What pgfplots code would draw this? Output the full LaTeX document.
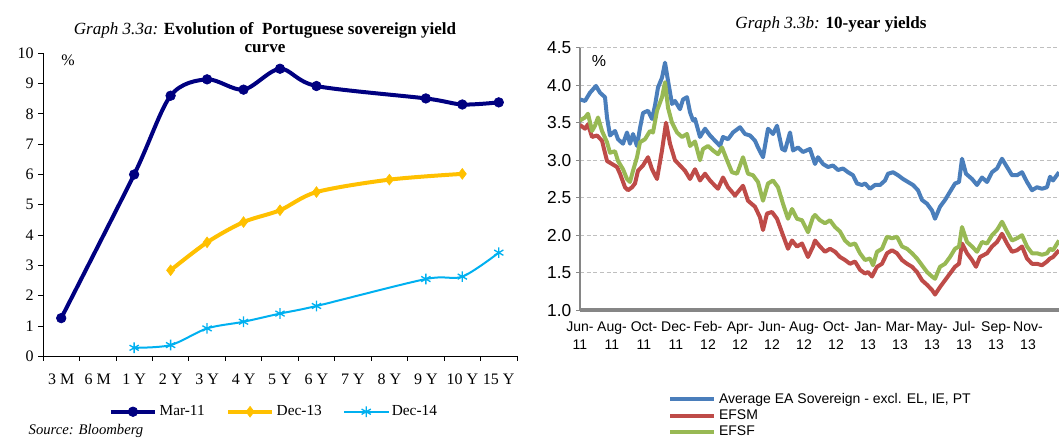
\documentclass[border=0pt]{standalone}
\usepackage{pgfplots}
\pgfplotsset{compat=1.18}
\usepackage{fontspec}
\setmainfont{Liberation Serif}
\newfontfamily\arial{Liberation Sans}
\definecolor{navyc}{HTML}{000080}
\definecolor{goldc}{HTML}{FFC000}
\definecolor{skyc}{HTML}{00B0F0}
\definecolor{blueS}{HTML}{4A7EBB}
\definecolor{redS}{HTML}{BE4B48}
\definecolor{greenS}{HTML}{98B954}
\definecolor{axgray}{HTML}{868686}
\definecolor{gridgray}{HTML}{BFBFBF}

\pgfplotstableread{
x y
580 3.81
585 3.79
590 3.90
596 3.99
600 3.90
605 3.84
607 3.57
610 3.33
615 3.39
618 3.28
623 3.22
627 3.37
630 3.22
633 3.35
637 3.19
640 3.43
643 3.63
648 3.66
652 3.55
655 3.73
658 3.97
662 4.10
665 4.30
668 4.06
672 3.75
675 3.79
680 3.68
683 3.81
687 3.84
690 3.64
693 3.53
695 3.55
700 3.31
705 3.42
710 3.33
715 3.26
720 3.19
723 3.31
728 3.28
733 3.37
740 3.44
745 3.35
750 3.33
755 3.26
758 3.17
763 3.04
768 3.42
773 3.35
777 3.46
782 3.15
785 3.13
790 3.37
793 3.13
798 3.17
803 3.11
810 3.15
815 2.95
818 3.04
823 2.95
828 2.91
833 2.93
838 2.87
843 2.89
848 2.84
853 2.80
857 2.69
862 2.67
865 2.69
870 2.62
875 2.67
880 2.67
885 2.73
888 2.82
893 2.84
898 2.80
903 2.75
908 2.71
913 2.67
918 2.60
922 2.47
927 2.42
932 2.33
935 2.22
940 2.38
945 2.47
950 2.58
955 2.69
959 2.71
962 3.02
966 2.82
972 2.75
977 2.67
982 2.77
987 2.71
992 2.84
997 2.89
1002 3.02
1007 2.91
1012 2.80
1017 2.80
1022 2.84
1027 2.71
1032 2.60
1037 2.64
1042 2.62
1047 2.64
1050 2.78
1053 2.73
1059 2.84
}\avgdata

\pgfplotstableread{
x y
580 3.47
585 3.42
588 3.48
592 3.31
597 3.33
602 3.26
607 2.99
612 2.95
617 2.91
620 2.82
625 2.64
628 2.60
632 2.64
635 2.69
638 2.86
643 2.93
648 3.04
652 2.88
657 2.75
662 3.13
666 3.50
670 3.22
675 3.00
680 2.93
685 2.86
690 2.75
695 2.88
700 2.73
705 2.82
710 2.73
715 2.66
718 2.62
723 2.77
728 2.64
735 2.53
743 2.66
748 2.46
755 2.38
760 2.24
763 2.07
767 2.29
772 2.31
777 2.22
783 2.00
788 1.82
792 1.93
797 1.85
802 1.89
808 1.71
813 1.85
815 1.93
820 1.85
825 1.78
830 1.82
835 1.78
840 1.71
845 1.67
850 1.62
855 1.65
860 1.54
865 1.49
868 1.51
872 1.45
877 1.58
882 1.62
887 1.76
892 1.80
897 1.76
902 1.67
907 1.62
912 1.58
917 1.51
922 1.40
927 1.34
932 1.27
935 1.21
940 1.31
945 1.40
950 1.49
955 1.58
959 1.62
962 1.89
967 1.76
972 1.67
976 1.58
980 1.71
987 1.76
992 1.85
997 1.91
1002 2.02
1007 1.89
1012 1.78
1017 1.80
1022 1.85
1027 1.69
1032 1.62
1037 1.62
1042 1.60
1047 1.65
1050 1.69
1053 1.71
1059 1.80
}\efsmdata

\pgfplotstableread{
x y
580 3.53
585 3.57
588 3.62
592 3.39
595 3.46
598 3.57
602 3.39
607 3.24
610 3.10
615 3.12
618 2.99
623 2.88
627 2.75
630 2.71
633 2.86
637 3.04
640 3.24
645 3.28
650 3.39
653 3.37
657 3.66
662 3.84
665 4.04
668 3.70
672 3.50
677 3.37
682 3.31
687 3.35
690 3.19
695 3.25
700 3.00
703 3.15
708 3.19
713 3.13
718 3.08
722 3.17
727 3.00
732 2.84
737 2.82
743 3.04
748 2.82
753 2.80
758 2.71
763 2.46
768 2.69
773 2.73
778 2.64
783 2.42
788 2.22
792 2.35
797 2.22
802 2.20
808 2.04
813 2.24
815 2.27
820 2.20
825 2.16
830 2.20
835 2.11
840 2.05
845 1.93
850 1.87
855 1.89
860 1.76
865 1.67
870 1.69
873 1.60
877 1.78
882 1.82
887 1.98
892 1.96
897 1.98
902 1.85
907 1.82
912 1.76
917 1.69
922 1.60
927 1.51
932 1.45
935 1.42
940 1.58
945 1.62
950 1.71
955 1.82
959 1.85
962 2.11
967 1.91
972 1.85
977 1.78
982 1.91
987 1.89
992 2.00
997 2.07
1002 2.18
1007 2.05
1012 1.93
1017 1.96
1022 2.00
1027 1.85
1032 1.76
1037 1.76
1042 1.74
1047 1.76
1050 1.82
1053 1.80
1059 1.93
}\efsfdata

\begin{document}
\begin{tikzpicture}
\useasboundingbox (0,0) rectangle (794.25pt,331.5pt);

% ---------- Left chart ----------
\begin{axis}[
  at={(32.25pt,64.28pt)}, anchor=south west, scale only axis,
  width=355.5pt, height=227.25pt,
  xmin=-0.5, xmax=12.5, ymin=0, ymax=10,
  axis x line*=bottom, axis y line*=left,
  axis line style={-, black, line width=0.6pt},
  tick align=outside, major tick length=3.5pt,
  tick style={black, line width=0.6pt},
  xtick={-0.5,0.5,...,12.5}, xticklabels={},
  extra x ticks={0,1,2,3,4,5,6,7,8,9,10,11,12},
  extra x tick labels={3 M,6 M,1 Y,2 Y,3 Y,4 Y,5 Y,6 Y,7 Y,8 Y,9 Y,10 Y,15 Y},
  extra x tick style={major tick length=0pt, tick label style={yshift=-9.5pt}},
  ytick={0,1,...,10},
  /pgf/number format/assume math mode=true,
  tick label style={font=\fontsize{12}{14}\selectfont},
  legend columns=3,
  legend style={at={(0.488,-0.183)}, anchor=center, draw=none, fill=none,
    font=\fontsize{11.5}{13}\selectfont,
    /tikz/every even column/.append style={column sep=14pt},
    /tikz/every odd column/.append style={column sep=0pt}},
  legend image code/.code={\draw[#1,mark repeat=2,mark phase=2] plot coordinates {(0pt,0pt) (16.5pt,0pt) (33pt,0pt)};},
  clip=false,
]
\addplot[navyc, line width=3pt, smooth, mark=*, mark size=3.6pt, mark options={line width=0.5pt}] coordinates {
(0,1.26) (2,6.00) (3,8.60) (4,9.14) (5,8.80) (6,9.49) (7,8.92) (10,8.51) (11,8.31) (12,8.38)};
\addlegendentry{Mar-11}
\addplot[goldc, line width=3pt, smooth, mark=diamond*, mark size=4pt, mark options={line width=0.5pt}] coordinates {
(3,2.84) (4,3.76) (5,4.43) (6,4.82) (7,5.42) (9,5.83) (11,6.02)};
\addlegendentry{Dec-13}
\addplot[skyc, line width=1.5pt, smooth, mark=asterisk, mark size=4pt, mark options={line width=1pt}] coordinates {
(2,0.28) (3,0.37) (4,0.92) (5,1.14) (6,1.41) (7,1.66) (10,2.55) (11,2.63) (12,3.42)};
\addlegendentry{Dec-14}
\end{axis}

\node[font=\fontsize{12.8}{14}\selectfont] at (198.75pt,309pt) {\textit{Graph 3.3a:} \textbf{Evolution of\ \ Portuguese sovereign yield}};
\node[font=\fontsize{12.8}{14}\selectfont] at (198.75pt,295pt) {\textbf{curve}};
\node[font=\fontsize{12}{14}\selectfont] at (51pt,286.5pt) {\%};
\node[font=\fontsize{11}{13}\selectfont\itshape, anchor=west] at (18pt,8.25pt) {Source: Bloomberg};

% ---------- Right chart ----------
\begin{axis}[
  at={(435pt,98.78pt)}, anchor=south west, scale only axis,
  width=359.25pt, height=196.95pt,
  xmin=580, xmax=1059, ymin=1, ymax=4.5,
  axis x line*=bottom, axis y line*=left,
  x axis line style={-, axgray, line width=3pt},
  y axis line style={-, axgray, line width=1.5pt},
  xtick={580,612,644,676,708,740,772,804,836,868,900,932,964,996,1028},
  xticklabels={{\strut Jun-\\\strut 11},{\strut Aug-\\\strut 11},{\strut Oct-\\\strut 11},{\strut Dec-\\\strut 11},{\strut Feb-\\\strut 12},{\strut Apr-\\\strut 12},{\strut Jun-\\\strut 12},{\strut Aug-\\\strut 12},{\strut Oct-\\\strut 12},{\strut Jan-\\\strut 13},{\strut Mar-\\\strut 13},{\strut May-\\\strut 13},{\strut Jul-\\\strut 13},{\strut Sep-\\\strut 13},{\strut Nov-\\\strut 13}},
  x tick label style={font=\arial\fontsize{10.5}{13.5}\selectfont, align=center, anchor=north, yshift=-2.5pt, inner ysep=1pt},
  x tick style={draw=none},
  ytick={1,1.5,...,4.5},
  yticklabel style={font=\arial\fontsize{13}{15}\selectfont, /pgf/number format/.cd, fixed, fixed zerofill, precision=1, assume math mode=true},
  y tick style={axgray, line width=1pt},
  tick align=outside, major tick length=3pt,
  ymajorgrids, grid style={gridgray, line width=0.9pt, dash pattern=on 3pt off 2pt},
  legend columns=1,
  legend style={at={(0.184,-0.305)}, anchor=north west, draw=none, fill=none,
    font=\arial\fontsize{10.5}{12}\selectfont, row sep=-0.8pt, inner sep=0pt},
  legend image code/.code={\draw[#1] (0pt,0pt) -- (33pt,0pt);},
  legend cell align=left,
]
\addplot[blueS, line width=3pt, line join=round] table[x=x,y=y] {\avgdata};
\addlegendentry{Average EA Sovereign - excl. EL, IE, PT}
\addplot[redS, line width=3pt, line join=round] table[x=x,y=y] {\efsmdata};
\addlegendentry{EFSM}
\addplot[greenS, line width=3pt, line join=round] table[x=x,y=y] {\efsfdata};
\addlegendentry{EFSF}
\end{axis}

\node[font=\fontsize{12.8}{14}\selectfont] at (623.25pt,313pt) {\textit{Graph 3.3b:} \textbf{10-year yields}};
\node[font=\arial\fontsize{12}{14}\selectfont] at (449.25pt,285.75pt) {\%};

\end{tikzpicture}
\end{document}
